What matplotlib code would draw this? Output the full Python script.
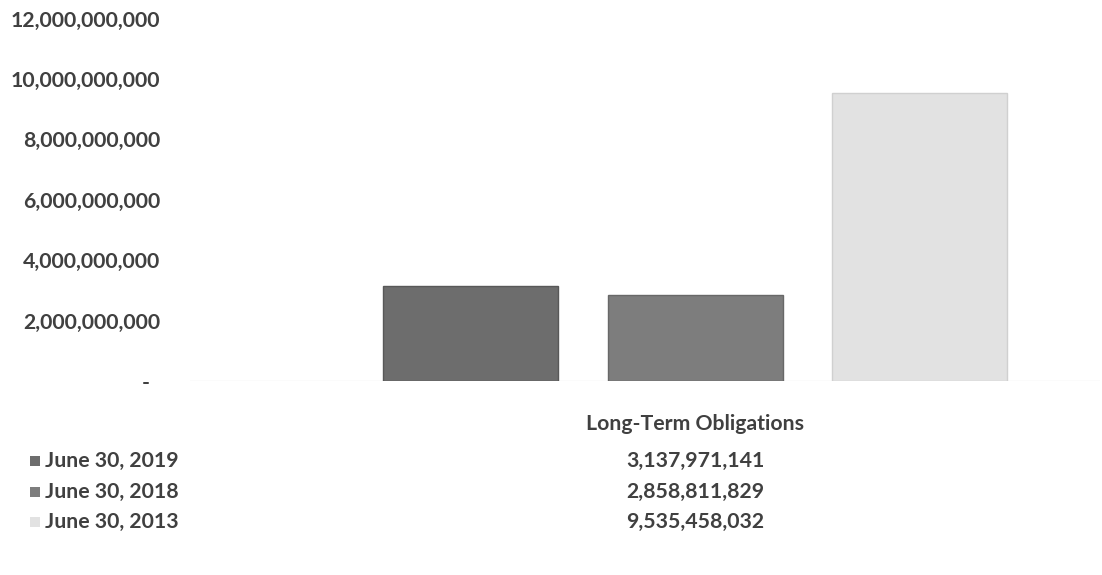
import matplotlib
matplotlib.use("Agg")
import matplotlib.pyplot as plt
from matplotlib.ticker import FuncFormatter
from matplotlib.patches import Rectangle

category = "Long-Term Obligations"
series_labels = ["June 30, 2019", "June 30, 2018", "June 30, 2013"]
series_values = [3137971141, 2858811829, 9535458032]
y_ticks = [0, 2e9, 4e9, 6e9, 8e9, 10e9, 12e9]

bar_colors = ["#6d6d6d", "#7d7d7d", "#e2e2e2"]
edge_colors = ["#585858", "#686868", "#d0d0d0"]
text_color = "#404040"
fs = 15.3

plt.rcParams["font.family"] = ["Lato", "DejaVu Sans"]

W, H = 1102, 575
fig = plt.figure(figsize=(W / 100, H / 100), dpi=100)

# plot area in pixel terms
left_px, right_px, zero_px, top_px = 190, 1100, 381, 18.6
ax = fig.add_axes([left_px / W, 1 - zero_px / H,
                   (right_px - left_px) / W, (zero_px - top_px) / H])

slot = 224.5
x0 = 470.5
xs = list(range(len(series_values)))
ax.bar(xs, series_values, width=175 / slot, color=bar_colors,
       edgecolor=edge_colors, linewidth=1.0, zorder=2)
ax.set_xlim(-(x0 - left_px) / slot, (right_px - x0) / slot)
ax.set_ylim(0, 12e9)

# accounting-style labels: zero shown as a dash with trailing padding
ax.set_yticks(y_ticks)
ax.yaxis.set_major_formatter(FuncFormatter(
    lambda v, p: "-  " if v == 0 else f"{v:,.0f}"))
ax.tick_params(axis="y", length=0, pad=30 * 0.72, labelsize=fs,
               labelcolor=text_color)
for lbl in ax.get_yticklabels():
    lbl.set_fontweight("bold")
ax.set_xticks([])
for s in ax.spines.values():
    s.set_visible(False)
ax.axhline(0, color="#eeeeee", linewidth=1.0, zorder=1)

# data table beneath the chart
center_x = 695 / W
fig.text(center_x, 1 - 424 / H, category, ha="center", va="center",
         fontsize=fs, fontweight="bold", color=text_color)
row_ys = [461, 492, 522]
for lab, val, col, ry in zip(series_labels, series_values, bar_colors, row_ys):
    fig.text(45 / W, 1 - ry / H, lab, ha="left", va="center",
             fontsize=fs, fontweight="bold", color=text_color)
    fig.patches.append(Rectangle((30 / W, 1 - (ry + 5) / H), 10 / W, 10 / H,
                                 transform=fig.transFigure,
                                 facecolor=col, edgecolor="none"))
    fig.text(center_x, 1 - ry / H, f"{val:,}", ha="center", va="center",
             fontsize=fs, fontweight="bold", color=text_color)

fig.savefig("out.png", dpi=100)
